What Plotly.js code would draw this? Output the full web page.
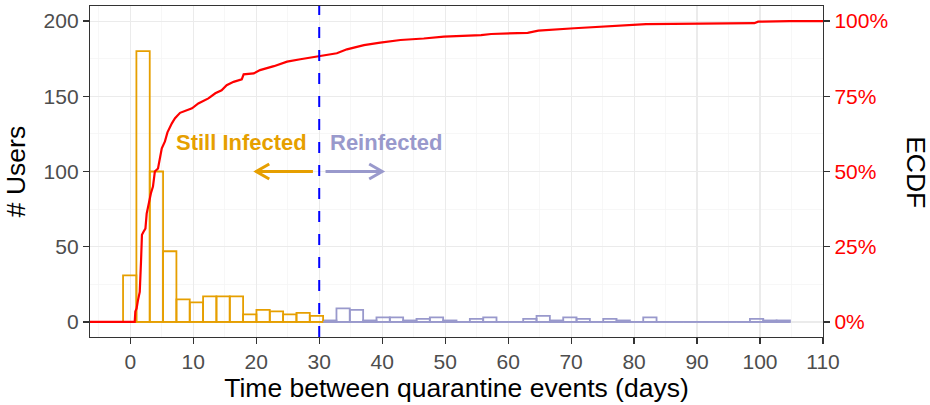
<!DOCTYPE html>
<html><head><meta charset="utf-8">
<script src="https://cdn.plot.ly/plotly-3.0.1.min.js"></script>
<style>html,body{margin:0;padding:0;background:#fff}#chart{width:930px;height:405px}</style>
</head><body><div id="chart"></div>
<script>
// ---- data ----
const binStart = -1.15;          // left edge of first histogram bin (days)
const binWidth = 2.118;          // histogram bin width (days)
const stillInfectedCounts = [31,180,100,47,15,13,17,17,17,5,8,7,5,6,4];
const reinfectedCounts = [1,9,8,1,3,3,1,2,3,1,0,2,3,0,0,2,4,1,3,2,0,2,1,0,3,0,0,0,0,0,0,0,2,1,1];
const ecdfDays  = [-10,0.7,0.8,1.0,1.2,1.5,1.7,1.85,2.1,2.4,2.6,2.85,3.3,3.6,3.9,4.4,4.7,5.0,5.5,5.9,6.6,7.1,7.9,8.6,9.8,10.8,12.4,13.5,14.5,15.3,16.4,17.7,18.0,19.6,20.6,22.8,24.9,27.0,29.9,32.8,34.4,37.1,39.7,42.9,46.6,49.8,55.7,57.3,63.1,64.8,70.5,76.9,81.9,99.1,99.7,104.7,120];
const ecdfShare = [0,0,0.035,0.045,0.07,0.10,0.20,0.29,0.30,0.31,0.36,0.39,0.43,0.45,0.50,0.51,0.55,0.577,0.60,0.63,0.66,0.677,0.695,0.70,0.71,0.726,0.743,0.76,0.77,0.787,0.798,0.806,0.823,0.826,0.837,0.85,0.865,0.873,0.884,0.893,0.906,0.92,0.928,0.937,0.942,0.948,0.953,0.957,0.961,0.968,0.976,0.983,0.99,0.993,0.998,1.0,1.0];
const xTickValues = [0,10,20,30,40,50,60,70,80,90,100,110];
const userTickValues = [0,50,100,150,200];
const ecdfTickValues = [0,0.25,0.5,0.75,1];
const ecdfTickLabels = ['0%','25%','50%','75%','100%'];
const splitDay = 30;
const groupLabels = ['Still Infected','Reinfected'];
const arrowLevel = 100;                 // users
const stillArrow = [29, 20];            // from, to (days)
const reArrow = [31, 40];

// ---- styling / layout ----
const COL = {still:'#E69F00', re:'#9999CC', ecdf:'#FF0000', split:'#0000FF', frame:'#333333', grid:'#EBEBEB', minor:'#F3F3F3', tick:'#4D4D4D'};
const FONT = 'Liberation Sans, Arial, Helvetica, sans-serif';
const W = 930, H = 405;
const M = {l:90, r:107, t:6, b:68};
const xRange = [-6.4, 110.0];
const yRange = [-10, 210];
const ecdfScale = 200;                  // 100% == 200 users on the left axis
const y2Range = [yRange[0]/ecdfScale, yRange[1]/ecdfScale];

const nStill = stillInfectedCounts.length;
const stillCenters = stillInfectedCounts.map((_, i) => binStart + (i + 0.5) * binWidth);
const reCenters = reinfectedCounts.map((_, i) => binStart + (nStill + i + 0.5) * binWidth);
const splitEdge = binStart + nStill * binWidth;
const lastEdge = binStart + (nStill + reinfectedCounts.length) * binWidth;

const plotW = W - M.l - M.r, plotH = H - M.t - M.b;
const pxX = plotW / (xRange[1] - xRange[0]);
const pxY = plotH / (yRange[1] - yRange[0]);
const headLen = 15, headAng = Math.PI / 6;
const hdx = headLen * Math.cos(headAng) / pxX;
const hdy = headLen * Math.sin(headAng) / pxY;

function arrowShapes(a, color) {
  const dir = Math.sign(a[1] - a[0]);
  const tip = a[1];
  return [
    {type:'line', xref:'x', yref:'y', x0:a[0], x1:tip, y0:arrowLevel, y1:arrowLevel, line:{color, width:3}},
    {type:'path', xref:'x', yref:'y',
     path:`M ${tip - dir*hdx},${arrowLevel + hdy} L ${tip},${arrowLevel} L ${tip - dir*hdx},${arrowLevel - hdy}`,
     line:{color, width:3}}
  ];
}

const traces = [
  {type:'scatter', mode:'lines', x:[binStart, splitEdge], y:[0,0], line:{color:COL.still, width:1.8}, hoverinfo:'skip'},
  {type:'scatter', mode:'lines', x:[splitEdge, lastEdge], y:[0,0], line:{color:COL.re, width:1.8}, hoverinfo:'skip'},
  {type:'bar', x:reCenters, y:reinfectedCounts, width:binWidth, marker:{color:'rgba(255,255,255,0)', line:{color:COL.re, width:1.8}}, hoverinfo:'skip'},
  {type:'bar', x:stillCenters, y:stillInfectedCounts, width:binWidth, marker:{color:'rgba(255,255,255,0)', line:{color:COL.still, width:1.8}}, hoverinfo:'skip'},
  {type:'scatter', mode:'lines', x:ecdfDays, y:ecdfShare, yaxis:'y2', line:{color:COL.ecdf, width:2.2}, hoverinfo:'skip'}
];

const axisCommon = {
  showline:true, linecolor:COL.frame, linewidth:1.2,
  ticks:'outside', ticklen:6, tickwidth:1.2, tickcolor:COL.frame,
  zeroline:false, showgrid:true, gridcolor:COL.grid, gridwidth:1.1,
  tickfont:{family:FONT, size:21, color:COL.tick}
};

const layout = {
  width:W, height:H, margin:M,
  paper_bgcolor:'#FFFFFF', plot_bgcolor:'#FFFFFF',
  showlegend:false, barmode:'overlay', bargap:0,
  font:{family:FONT, color:'#000000'},
  xaxis: Object.assign({}, axisCommon, {
    range:xRange, tickmode:'array', tickvals:xTickValues, mirror:true,
    minor:{dtick:5, tick0:0, showgrid:true, gridcolor:COL.minor, gridwidth:0.7, ticks:''},
    title:{text:'Time between quarantine events (days)', font:{family:FONT, size:26.5, color:'#000'}, standoff:6}
  }),
  yaxis: Object.assign({}, axisCommon, {
    range:yRange, tickmode:'array', tickvals:userTickValues, mirror:true,
    minor:{dtick:25, tick0:0, showgrid:true, gridcolor:COL.minor, gridwidth:0.7, ticks:''},
    title:{text:'# Users', font:{family:FONT, size:26.5, color:'#000'}, standoff:10}
  }),
  yaxis2: Object.assign({}, axisCommon, {
    overlaying:'y', side:'right', range:y2Range, showgrid:false,
    tickmode:'array', tickvals:ecdfTickValues, ticktext:ecdfTickLabels,
    tickfont:{family:FONT, size:21, color:COL.ecdf}
  }),
  shapes: [
    ...arrowShapes(stillArrow, COL.still),
    ...arrowShapes(reArrow, COL.re),
    {type:'line', xref:'x', yref:'paper', x0:splitDay, x1:splitDay, y0:0, y1:1, line:{color:COL.split, width:2, dash:'11px,12px'}}
  ],
  annotations: [
    {text:groupLabels[0], xref:'x', yref:'y', x:28.4, y:119, xanchor:'right', yanchor:'middle', showarrow:false,
     font:{family:FONT, size:22, color:COL.still, weight:'bold'}},
    {text:groupLabels[1], xref:'x', yref:'y', x:31.45, y:119, xanchor:'left', yanchor:'middle', showarrow:false,
     font:{family:FONT, size:22, color:COL.re, weight:'bold'}},
    {text:'ECDF', xref:'paper', yref:'paper', x:(916 - M.l)/plotW, y:0.498, xanchor:'center', yanchor:'middle', textangle:90, showarrow:false,
     font:{family:FONT, size:26.5, color:'#000'}}
  ]
};

Plotly.newPlot('chart', traces, layout, {displayModeBar:false, staticPlot:true});
</script></body></html>
